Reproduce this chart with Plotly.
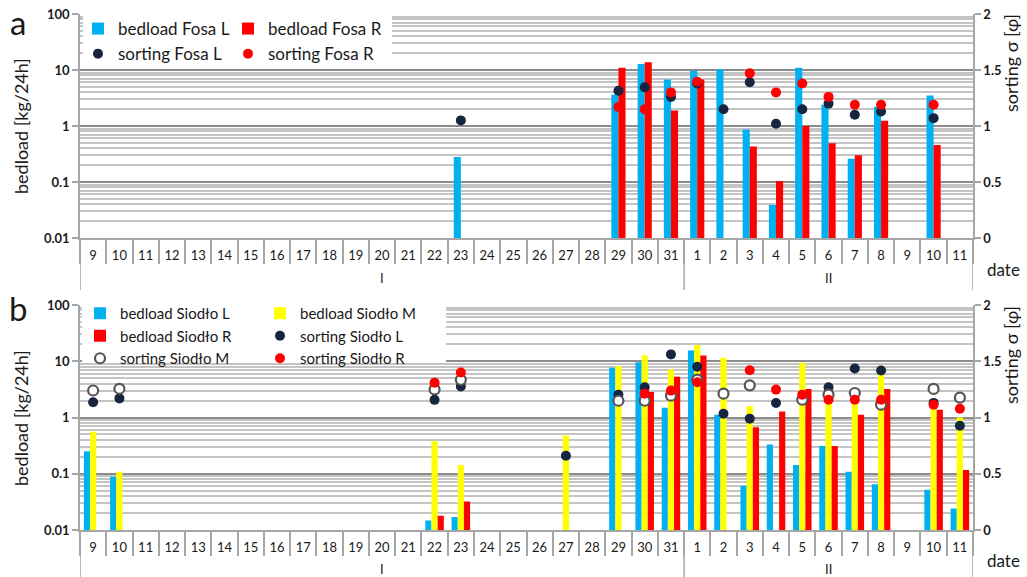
import plotly.graph_objects as go
from plotly.subplots import make_subplots

W, H = 1027, 577

# ---------------- data ----------------
months = ["I"] * 23 + ["II"] * 11
days = [str(d) for d in range(9, 32)] + [str(d) for d in range(1, 12)]

N = None
# panel a (Fosa)
fosa_L_bed = [N, N, N, N, N, N, N, N, N, N, N, N, N, N, 0.28, N, N, N, N, N, 3.6, 12.8, 6.8,
              9.7, 10.3, 0.87, 0.039, 11.0, 2.4, 0.26, 2.2, N, 3.5, N]
fosa_R_bed = [N, N, N, N, N, N, N, N, N, N, N, N, N, N, N, N, N, N, N, N, 11.0, 13.7, 1.9,
              6.8, N, 0.43, 0.104, 1.0, 0.49, 0.30, 1.24, N, 0.46, N]
fosa_L_sort = [N, N, N, N, N, N, N, N, N, N, N, N, N, N, 1.05, N, N, N, N, N, 1.315, 1.345, 1.26,
               1.38, 1.15, 1.39, 1.02, 1.15, 1.20, 1.10, 1.13, N, 1.07, N]
fosa_R_sort = [N, N, N, N, N, N, N, N, N, N, N, N, N, N, N, N, N, N, N, N, 1.17, 1.15, 1.30,
               1.395, N, 1.47, 1.30, 1.38, 1.26, 1.19, 1.19, N, 1.19, N]

# panel b (Siodło)
siodlo_L_bed = [0.25, 0.088, N, N, N, N, N, N, N, N, N, N, N, 0.0148, 0.017, N, N, N, N, N, 7.7, 9.6, 1.49,
                15.6, 1.12, 0.061, 0.33, 0.143, 0.31, 0.108, 0.065, N, 0.052, 0.024]
siodlo_M_bed = [0.56, 0.108, N, N, N, N, N, N, N, N, N, N, N, 0.38, 0.143, N, N, N, 0.48, N, 8.2, 12.7, 7.1,
                19.4, 11.5, 1.6, N, 9.4, 2.8, 3.1, 8.2, N, 1.7, 1.0]
siodlo_R_bed = [N, N, N, N, N, N, N, N, N, N, N, N, N, 0.018, 0.032, N, N, N, N, N, N, 2.85, 5.3,
                12.7, N, 0.67, 1.28, 3.2, 0.31, 1.12, 3.2, N, 1.37, 0.116]
siodlo_L_sort = [1.136, 1.17, N, N, N, N, N, N, N, N, N, N, N, 1.157, 1.275, N, N, N, 0.66, N, 1.203, 1.268, 1.561,
                 1.451, 1.033, 0.99, 1.129, 1.17, 1.268, 1.436, 1.418, N, 1.13, 0.926]
siodlo_M_sort = [1.24, 1.255, N, N, N, N, N, N, N, N, N, N, N, 1.25, 1.335, N, N, N, N, N, 1.149, 1.149, 1.194,
                 1.337, 1.212, 1.286, N, 1.158, 1.203, 1.218, 1.114, N, 1.254, 1.177]
siodlo_R_sort = [N, N, N, N, N, N, N, N, N, N, N, N, N, 1.31, 1.40, N, N, N, N, N, N, 1.212, 1.239,
                 1.313, N, 1.42, 1.248, 1.203, 1.158, 1.158, 1.158, N, 1.114, 1.078]

bed_ticks = [0.01, 0.1, 1, 10, 100]
bed_labels = ["0.01", "0.1", "1", "10", "100"]
sort_ticks = [0, 0.5, 1, 1.5, 2]
sort_labels = ["0", "0.5", "1", "1.5", "2"]

# ---------------- styles ----------------
BLUE = "#00B0F0"
RED = "#FF0000"
YELLOW = "#FFFF00"
NAVY = "#172640"
GRAYRING = "#555555"
FONT = "Lato"
TXT = "#1a1a1a"
AXC = "#A6A6A6"


def px_x(p):
    return p / W


def px_y(p):
    return 1 - p / H


idx = list(range(len(days)))

fig = make_subplots(rows=2, cols=1, specs=[[{"secondary_y": True}], [{"secondary_y": True}]])


def bar(vals, name, color, width, offset, row, legend):
    fig.add_trace(go.Bar(x=idx, y=vals, name=name, marker=dict(color=color, line_width=0),
                         width=width, offset=offset, legend=legend),
                  row=row, col=1, secondary_y=False)


def dots(vals, name, color, row, legend, ring=False):
    if ring:
        m = dict(size=10, color="white", line=dict(color=GRAYRING, width=2.2))
    else:
        m = dict(size=10, color=color, line=dict(width=0))
    fig.add_trace(go.Scatter(x=idx, y=vals, name=name, mode="markers", marker=m, legend=legend),
                  row=row, col=1, secondary_y=True)


# panel a
bar(fosa_L_bed, "bedload Fosa L", BLUE, 0.27, -0.27, 1, "legend")
bar(fosa_R_bed, "bedload Fosa R", RED, 0.27, 0.0, 1, "legend2")
dots(fosa_L_sort, "sorting Fosa L", NAVY, 1, "legend")
dots(fosa_R_sort, "sorting Fosa R", RED, 1, "legend2")

# panel b
bw = 0.235
bar(siodlo_L_bed, "bedload Siodło L", BLUE, bw, -1.5 * bw, 2, "legend3")
bar(siodlo_M_bed, "bedload Siodło M", YELLOW, bw, -0.5 * bw, 2, "legend4")
bar(siodlo_R_bed, "bedload Siodło R", RED, bw, 0.5 * bw, 2, "legend3")
dots(siodlo_L_sort, "sorting Siodło L", NAVY, 2, "legend4")
dots(siodlo_M_sort, "sorting Siodło M", GRAYRING, 2, "legend3", ring=True)
dots(siodlo_R_sort, "sorting Siodło R", RED, 2, "legend4")

# ---------------- axes ----------------
xdom = [px_x(80), px_x(973)]
A_TOP, A_BOT = 14, 238
B_TOP, B_BOT = 305, 530
dom_a = [px_y(A_BOT), px_y(A_TOP)]
dom_b = [px_y(B_BOT), px_y(B_TOP)]

bounds = [i - 0.5 for i in range(len(days) + 1)]
xax = dict(range=[-0.5, len(days) - 0.5], showline=True, linecolor=AXC, linewidth=1.5,
           tickmode="array", tickvals=idx, ticktext=days, ticks="", tickangle=0,
           ticklabelstandoff=5,
           minor=dict(tickvals=bounds, ticks="outside", ticklen=24, tickcolor=AXC, tickwidth=1.5,
                      showgrid=False),
           tickfont=dict(family=FONT, size=13, color=TXT), showgrid=False, automargin=False,
           zeroline=False, domain=xdom)

yl = dict(type="log", range=[-2, 2], tickmode="array", tickvals=bed_ticks,
          ticktext=["<b>%s</b>" % t for t in bed_labels],
          showline=True, linecolor=AXC, linewidth=1.5,
          ticks="outside", ticklen=6, tickcolor=AXC, tickwidth=1.5,
          tickfont=dict(family=FONT, size=13, color=TXT),
          showgrid=True, gridcolor="#8C8C8C", gridwidth=2,
          minor=dict(showgrid=True, gridcolor="#C4C4C4", gridwidth=1.5, dtick="D1", ticks=""),
          automargin=False, zeroline=False)
yr = dict(range=[0, 2], tickmode="array", tickvals=sort_ticks,
          ticktext=["<b>%s</b>" % t for t in sort_labels],
          showline=True, linecolor=AXC, linewidth=1.5,
          ticks="outside", ticklen=6, tickcolor=AXC, tickwidth=1.5,
          tickfont=dict(family=FONT, size=13, color=TXT),
          showgrid=False, automargin=False, zeroline=False, side="right")

fig.update_layout(
    xaxis=dict(xax, anchor="y"),
    xaxis2=dict(xax, anchor="y3"),
    yaxis=dict(yl, domain=dom_a),
    yaxis2=dict(yr, domain=dom_a),
    yaxis3=dict(yl, domain=dom_b),
    yaxis4=dict(yr, domain=dom_b),
)


# ---------------- legends ----------------
def leg(x, y, size):
    return dict(x=px_x(x), y=px_y(y), xanchor="left", yanchor="top", bgcolor="rgba(0,0,0,0)",
                borderwidth=0, font=dict(family=FONT, size=size, color=TXT),
                tracegroupgap=0, itemwidth=30, traceorder="normal")


fig.update_layout(
    legend=leg(78, 11, 17),
    legend2=leg(228, 11, 17),
    legend3=leg(80, 297, 15),
    legend4=leg(260, 297, 15),
)

shapes = [
    dict(type="rect", xref="paper", yref="paper", x0=px_x(83), x1=px_x(392), y0=px_y(62), y1=px_y(15),
         fillcolor="white", line_width=0, layer="above"),
    dict(type="rect", xref="paper", yref="paper", x0=px_x(82), x1=px_x(446), y0=px_y(363), y1=px_y(306),
         fillcolor="white", line_width=0, layer="above"),
]

ann = []
# month grouping level below the day labels
groups = []
for i, m in enumerate(months):
    if not groups or groups[-1][0] != m:
        groups.append([m, i, i])
    else:
        groups[-1][2] = i
for xref, bot, lab_y, depth in (("x", A_BOT, 278, 52), ("x2", B_BOT, 569, 47)):
    edges = sorted({g[1] - 0.5 for g in groups} | {g[2] + 0.5 for g in groups})
    for e in edges:
        shapes.append(dict(type="line", xref=xref, yref="paper", x0=e, x1=e,
                           y0=px_y(bot), y1=px_y(bot + depth), line=dict(color=AXC, width=1.5)))
    for m, i0, i1 in groups:
        ann.append(dict(text=m, x=(i0 + i1) / 2, y=px_y(lab_y), xref=xref, yref="paper",
                        xanchor="center", yanchor="middle", showarrow=False,
                        font=dict(family=FONT, size=13, color=TXT)))

for lab, yy in (("a", 22), ("b", 308)):
    ann.append(dict(text=lab, x=px_x(18), y=px_y(yy), xref="paper", yref="paper",
                    xanchor="center", yanchor="middle",
                    showarrow=False, font=dict(family=FONT, size=33, color=TXT)))
for yy, ys in ((126, 63), (418, 355)):
    ann.append(dict(text="bedload [kg/24h]", x=px_x(21), y=px_y(yy), xref="paper", yref="paper",
                    xanchor="center", yanchor="middle",
                    textangle=-90, showarrow=False, font=dict(family=FONT, size=18, color=TXT)))
    ann.append(dict(text="sorting σ [φ]", x=px_x(1011), y=px_y(ys), xref="paper", yref="paper",
                    xanchor="center", yanchor="middle",
                    textangle=-90, showarrow=False, font=dict(family=FONT, size=18, color=TXT)))
for yy in (269, 560):
    ann.append(dict(text="date", x=px_x(1003), y=px_y(yy), xref="paper", yref="paper",
                    xanchor="center", yanchor="middle",
                    showarrow=False, font=dict(family=FONT, size=17, color=TXT)))

fig.update_layout(
    width=W, height=H, margin=dict(l=0, r=0, t=0, b=0),
    paper_bgcolor="white", plot_bgcolor="white",
    barmode="overlay", showlegend=True,
    shapes=shapes, annotations=ann,
)

fig.write_html("out.html")
